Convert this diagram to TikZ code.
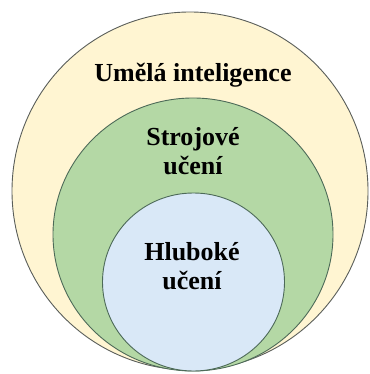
\documentclass[tikz,border=0pt]{standalone}
\usepackage{fontspec}
\setmainfont{Liberation Serif}[BoldFont={Liberation Serif Bold}]
\newfontfamily\lblfont{Liberation Serif Bold}
\usetikzlibrary{shapes.geometric}
\definecolor{aiyellow}{HTML}{FFF5D2}
\definecolor{mlgreen}{HTML}{B4D8A5}
\definecolor{dlblue}{HTML}{D9E8F7}
\definecolor{outerline}{HTML}{5A5E5A}
\definecolor{innerline}{HTML}{4D6A58}
\begin{document}
\begin{tikzpicture}[x=1pt,y=-1pt]
\tikzset{
  ring/.style={ellipse, draw=#1, line width=0.9pt, inner sep=0pt},
  lbl/.style={font=\lblfont\fontsize{26}{28.5}\selectfont, align=center, anchor=base, text=black, inner sep=0pt}
}
\useasboundingbox (0,0) rectangle (369,374);
\node[ring=outerline, fill=aiyellow, minimum width=356pt, minimum height=358pt] (ai) at (190,191) {};
\node[ring=innerline, fill=mlgreen, minimum width=280pt, minimum height=273pt] (ml) at (193,234.5) {};
\node[ring=innerline, fill=dlblue, minimum width=182pt, minimum height=178pt] (dl) at (193.5,282) {};
\node[lbl] (ailbl) at (193,82) {Umělá inteligence};
\node[lbl] (mllbl) at (193,174) {Strojové\\učení};
\node[lbl] (dllbl) at (192,289) {Hluboké\\učení};
\end{tikzpicture}
\end{document}
